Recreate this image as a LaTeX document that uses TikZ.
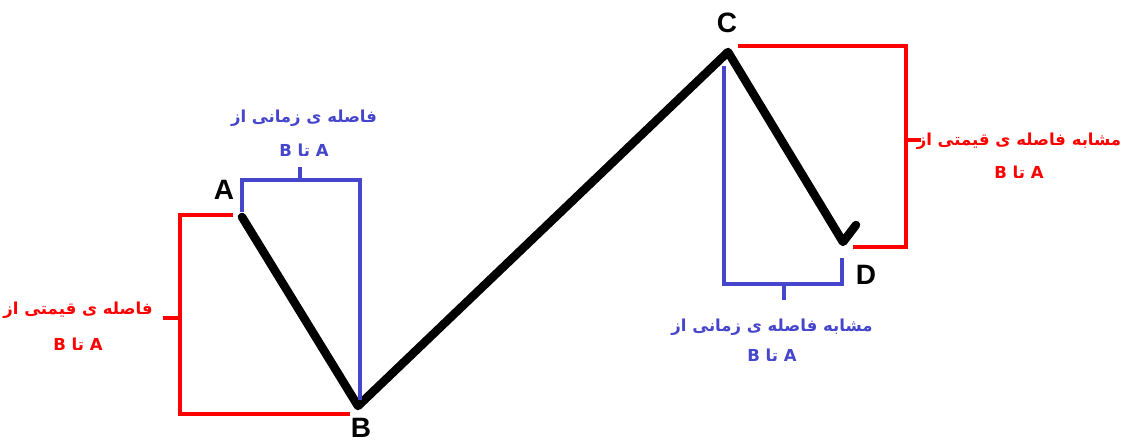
\documentclass[tikz,border=0pt]{standalone}
\usepackage{fontspec}
\setmainfont{Liberation Sans}
\newfontfamily\arabicfont[Script=Arabic]{DejaVu Sans}
\TeXXeTstate=1
\usepackage{tikz}
\usetikzlibrary{positioning}
\definecolor{pricered}{RGB}{255,0,0}
\definecolor{timeblue}{RGB}{70,70,204}

\begin{document}
\begin{tikzpicture}[
  x=1pt, y=-1pt,
  wave/.style={line width=8.5pt, line join=round, line cap=round},
  pricebox/.style={draw=pricered, line width=3.2pt},
  timebox/.style={draw=timeblue, line width=3.2pt},
  pointlabel/.style={font=\fontsize{28}{30}\selectfont\bfseries, inner sep=0pt},
  note/.style={align=center, inner sep=0pt, font=\arabicfont\bfseries\fontsize{16.5}{36}\selectfont}
]
\useasboundingbox (0,0) rectangle (1127,444);

\coordinate (A) at (242,217);
\coordinate (B) at (358,406);
\coordinate (C) at (728,52);
\coordinate (D) at (843,242);
\coordinate (Dtick) at (856,225);
\draw[wave] (A) -- (B) -- (C) -- (D) -- (Dtick);

\node[pointlabel] (labA) at (224,190) {A};
\node[pointlabel] (labB) at (361,428) {B};
\node[pointlabel] (labC) at (727,23) {C};
\node[pointlabel] (labD) at (866,275) {D};

\draw[pricebox] (233,215) -| (180,414) -- (350,414);
\draw[pricebox] (180,318) -- (163,318);
\node[note, text=pricered] (priceAB) at (78,326)
  {\beginR فاصله ی قیمتی از\endR\\\beginR A تا B\endR};

\draw[timebox] (242,212) |- (360,180) -- (360,400);
\draw[timebox] (300,180) -- (300,167);
\node[note, text=timeblue, font=\arabicfont\bfseries\fontsize{16.5}{34}\selectfont] (timeAB) at (304,133)
  {\beginR فاصله ی زمانی از\endR\\\beginR A تا B\endR};

\draw[pricebox] (738,46) -| (906,247) -- (853,247);
\draw[pricebox] (906,140) -- (921,140);
\node[note, text=pricered, font=\arabicfont\bfseries\fontsize{16.5}{33}\selectfont] (priceCD) at (1019,156)
  {\beginR مشابه فاصله ی قیمتی از\endR\\\beginR A تا B\endR};

\draw[timebox] (724,66) |- (842,284) -- (842,258);
\draw[timebox] (784,284) -- (784,300);
\node[note, text=timeblue, font=\arabicfont\bfseries\fontsize{16.5}{30}\selectfont] (timeCD) at (772,340)
  {\beginR مشابه فاصله ی زمانی از\endR\\\beginR A تا B\endR};
\end{tikzpicture}
\end{document}
